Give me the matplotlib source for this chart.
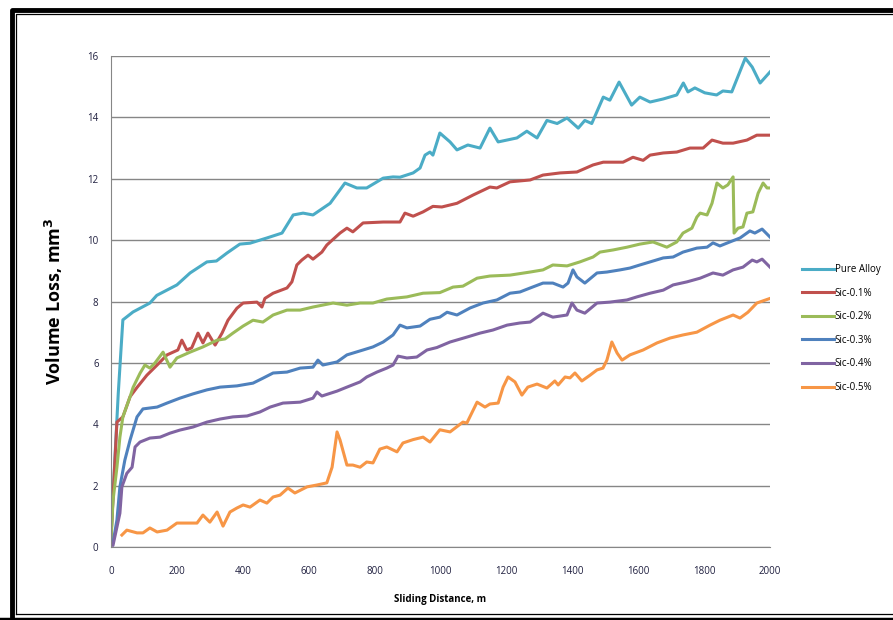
import numpy as np
import matplotlib.pyplot as plt
from matplotlib.lines import Line2D

# Datos (distancia en m, perdida de volumen en mm3)
pure_x = [0, 10, 22, 36, 67, 118, 139, 200, 240, 291, 320, 352, 391, 422, 473, 519, 553, 583,
          613, 665, 710, 746, 776, 826, 856, 877, 917, 938, 953, 968, 977, 998, 1029, 1050,
          1083, 1120, 1150, 1175, 1232, 1262, 1293, 1323, 1354, 1384, 1418, 1438, 1459, 1494,
          1514, 1542, 1580, 1605, 1636, 1676, 1717, 1737, 1751, 1772, 1802, 1838, 1857, 1884,
          1925, 1946, 1970, 2000]
pure_y = [0.3, 2.5, 5.0, 7.4, 7.66, 7.95, 8.2, 8.54, 8.93, 9.29, 9.32, 9.58, 9.87, 9.9, 10.07,
          10.23, 10.82, 10.88, 10.82, 11.2, 11.86, 11.7, 11.7, 12.02, 12.06, 12.05, 12.19, 12.35,
          12.77, 12.87, 12.77, 13.49, 13.2, 12.94, 13.1, 13.0, 13.65, 13.2, 13.33, 13.55, 13.33,
          13.9, 13.8, 13.98, 13.65, 13.9, 13.8, 14.66, 14.56, 15.15, 14.4, 14.66, 14.5, 14.6,
          14.73, 15.12, 14.83, 14.96, 14.8, 14.73, 14.86, 14.83, 15.93, 15.64, 15.12, 15.48]

sic1_x = [0, 8, 18, 36, 58, 79, 109, 140, 170, 203, 215, 230, 245, 264, 279, 294, 316, 337, 355,
          382, 401, 443, 458, 467, 492, 534, 549, 564, 579, 598, 613, 640, 655, 695, 716, 734,
          765, 826, 877, 892, 917, 947, 977, 1004, 1050, 1099, 1150, 1171, 1211, 1272, 1311,
          1363, 1414, 1463, 1494, 1554, 1584, 1615, 1636, 1676, 1717, 1757, 1797, 1824, 1857,
          1888, 1930, 1960, 2000]
sic1_y = [0.3, 2.0, 4.07, 4.24, 4.9, 5.2, 5.6, 5.93, 6.26, 6.42, 6.74, 6.42, 6.49, 6.97, 6.65,
          6.97, 6.58, 6.97, 7.39, 7.78, 7.95, 7.98, 7.82, 8.1, 8.27, 8.44, 8.64, 9.19, 9.35, 9.51,
          9.38, 9.61, 9.84, 10.23, 10.39, 10.27, 10.56, 10.59, 10.59, 10.88, 10.78, 10.92, 11.1,
          11.08, 11.2, 11.47, 11.73, 11.7, 11.9, 11.96, 12.12, 12.19, 12.22, 12.45, 12.54, 12.54,
          12.7, 12.6, 12.77, 12.84, 12.87, 13.0, 13.0, 13.26, 13.16, 13.16, 13.26, 13.42, 13.42]

sic2_x = [0, 6, 18, 27, 36, 58, 67, 88, 103, 118, 133, 158, 179, 200, 240, 279, 322, 346, 370,
          401, 431, 461, 492, 534, 574, 613, 674, 716, 756, 795, 837, 898, 947, 998, 1038, 1068,
          1111, 1150, 1211, 1272, 1311, 1341, 1384, 1423, 1463, 1484, 1524, 1566, 1605, 1645,
          1687, 1717, 1736, 1763, 1778, 1788, 1809, 1824, 1839, 1857, 1872, 1888, 1891, 1903,
          1918, 1930, 1948, 1964, 1979, 1991, 2000]
sic2_y = [0.2, 1.5, 2.6, 3.58, 4.24, 4.9, 5.2, 5.66, 5.93, 5.83, 5.99, 6.35, 5.86, 6.16, 6.35,
          6.52, 6.74, 6.78, 6.97, 7.2, 7.39, 7.33, 7.56, 7.72, 7.72, 7.82, 7.95, 7.88, 7.95, 7.95,
          8.08, 8.15, 8.27, 8.29, 8.47, 8.5, 8.76, 8.83, 8.86, 8.96, 9.03, 9.19, 9.16, 9.29, 9.45,
          9.61, 9.68, 9.77, 9.87, 9.94, 9.77, 9.94, 10.23, 10.39, 10.75, 10.88, 10.82, 11.2,
          11.86, 11.7, 11.8, 12.06, 10.23, 10.39, 10.43, 10.88, 10.92, 11.53, 11.86, 11.7, 11.7]

sic3_x = [0, 6, 18, 27, 42, 58, 79, 97, 140, 170, 209, 249, 291, 331, 382, 431, 461, 492, 534,
          574, 613, 628, 643, 686, 716, 765, 795, 826, 856, 877, 898, 938, 968, 998, 1020, 1050,
          1090, 1129, 1171, 1211, 1241, 1272, 1311, 1341, 1372, 1387, 1402, 1414, 1438, 1475,
          1505, 1545, 1575, 1605, 1636, 1676, 1706, 1736, 1778, 1809, 1827, 1848, 1878, 1909,
          1939, 1954, 1976, 2000]
sic3_y = [0.1, 0.13, 0.88, 1.96, 2.83, 3.49, 4.24, 4.5, 4.56, 4.69, 4.85, 4.99, 5.12, 5.21, 5.25,
          5.34, 5.5, 5.67, 5.7, 5.83, 5.86, 6.09, 5.93, 6.03, 6.26, 6.42, 6.52, 6.68, 6.91, 7.23,
          7.14, 7.2, 7.42, 7.49, 7.65, 7.56, 7.79, 7.95, 8.05, 8.27, 8.31, 8.44, 8.6, 8.6, 8.47,
          8.6, 9.03, 8.8, 8.6, 8.93, 8.96, 9.03, 9.09, 9.19, 9.29, 9.42, 9.45, 9.61, 9.74, 9.77,
          9.91, 9.81, 9.94, 10.07, 10.3, 10.23, 10.36, 10.1]

sic4_x = [0, 6, 27, 33, 48, 64, 73, 88, 118, 149, 179, 209, 249, 291, 331, 370, 413, 452, 483,
          522, 574, 613, 625, 640, 686, 716, 756, 776, 807, 837, 856, 871, 898, 928, 959, 989,
          1029, 1080, 1120, 1159, 1202, 1241, 1272, 1311, 1341, 1384, 1399, 1414, 1438, 1475,
          1514, 1566, 1596, 1636, 1676, 1706, 1748, 1788, 1827, 1857, 1888, 1918, 1946, 1960,
          1976, 2000]
sic4_y = [0.1, 0.05, 1.1, 1.96, 2.4, 2.6, 3.26, 3.42, 3.55, 3.58, 3.71, 3.81, 3.91, 4.07, 4.17,
          4.24, 4.27, 4.4, 4.56, 4.69, 4.72, 4.85, 5.05, 4.92, 5.08, 5.21, 5.38, 5.54, 5.7, 5.83,
          5.93, 6.22, 6.16, 6.19, 6.42, 6.5, 6.68, 6.84, 6.97, 7.07, 7.23, 7.3, 7.33, 7.62, 7.49,
          7.56, 7.95, 7.72, 7.62, 7.95, 7.98, 8.05, 8.15, 8.27, 8.37, 8.54, 8.64, 8.76, 8.93,
          8.86, 9.03, 9.12, 9.35, 9.29, 9.38, 9.12]

sic5_x = [33, 48, 79, 97, 118, 140, 170, 200, 230, 261, 279, 300, 322, 340, 361, 382, 401, 422,
          452, 473, 492, 513, 537, 558, 595, 625, 655, 671, 686, 695, 716, 734, 756, 776, 795,
          816, 837, 868, 886, 917, 947, 968, 998, 1029, 1068, 1080, 1111, 1135, 1150, 1175,
          1190, 1205, 1226, 1247, 1265, 1293, 1323, 1347, 1357, 1378, 1393, 1408, 1429, 1454,
          1475, 1493, 1505, 1520, 1536, 1551, 1575, 1615, 1657, 1697, 1736, 1778, 1818, 1848,
          1888, 1909, 1933, 1960, 2000]
sic5_y = [0.39, 0.55, 0.46, 0.46, 0.62, 0.49, 0.55, 0.78, 0.78, 0.78, 1.04, 0.81, 1.14, 0.68,
          1.14, 1.27, 1.37, 1.3, 1.53, 1.43, 1.63, 1.69, 1.92, 1.76, 1.96, 2.02, 2.09, 2.6, 3.75,
          3.49, 2.67, 2.67, 2.6, 2.77, 2.74, 3.19, 3.26, 3.1, 3.39, 3.5, 3.58, 3.42, 3.82, 3.75,
          4.07, 4.04, 4.72, 4.56, 4.66, 4.69, 5.21, 5.54, 5.38, 4.95, 5.21, 5.31, 5.18, 5.41,
          5.28, 5.54, 5.51, 5.67, 5.41, 5.6, 5.77, 5.83, 6.09, 6.68, 6.32, 6.09, 6.26, 6.42, 6.65,
          6.81, 6.91, 7.0, 7.23, 7.39, 7.56, 7.46, 7.65, 7.95, 8.1]

series = [
    ("Pure Alloy", pure_x, pure_y, "#4bacc6"),
    ("Sic-0.1%", sic1_x, sic1_y, "#c0504d"),
    ("Sic-0.2%", sic2_x, sic2_y, "#9bbb59"),
    ("Sic-0.3%", sic3_x, sic3_y, "#4f81bd"),
    ("Sic-0.4%", sic4_x, sic4_y, "#8064a2"),
    ("Sic-0.5%", sic5_x, sic5_y, "#f79646"),
]

plt.rcParams['font.family'] = ['Open Sans', 'DejaVu Sans']

fig = plt.figure(figsize=(8.93, 6.2), dpi=100)
ax = fig.add_axes([111 / 893, 73 / 620, 659 / 893, 491 / 620])

for name, x, y, c in series:
    ax.plot(x, y, color=c, lw=2.2, label=name, solid_joinstyle='round')

ax.set_xlim(0, 2000)
ax.set_ylim(0, 16)
ax.set_xticks(np.arange(0, 2001, 200))
ax.set_yticks(np.arange(0, 17, 2))
ax.grid(axis='y', color='#868686', lw=1)
ax.set_axisbelow(True)
for s in ['top', 'right']:
    ax.spines[s].set_visible(False)
for s in ['left', 'bottom']:
    ax.spines[s].set_color('#868686')
ax.tick_params(length=0, labelsize=7, colors='#1f1f3f')
ax.tick_params(axis='x', pad=14)
ax.tick_params(axis='y', pad=9)

ax.set_xlabel("Sliding Distance, m", fontsize=7, fontweight='bold', labelpad=12)
ax.set_ylabel("Volume Loss, mm$^\\mathbf{3}$", fontsize=13, fontweight='bold', labelpad=16)

ax.legend(loc='center left', bbox_to_anchor=(1.035, 0.445), frameon=False, fontsize=7,
          handlelength=3.3, handletextpad=0.1, labelspacing=1.3)

# Marco doble alrededor de la figura
W, H = 893, 620
def fline(xs, ys, **kw):
    fig.add_artist(Line2D([v / W for v in xs], [1 - v / H for v in ys],
                          transform=fig.transFigure, **kw))

fline([12, 12, 900], [620, 10, 10], color='black', lw=3.5)
fline([0, 900], [618.5, 618.5], color='black', lw=2.5)
fline([16, 16, 900], [614, 14, 14], color='black', lw=0.9)
fline([16, 900], [614, 614], color='black', lw=0.9)

plt.savefig("out.png", dpi=100)
